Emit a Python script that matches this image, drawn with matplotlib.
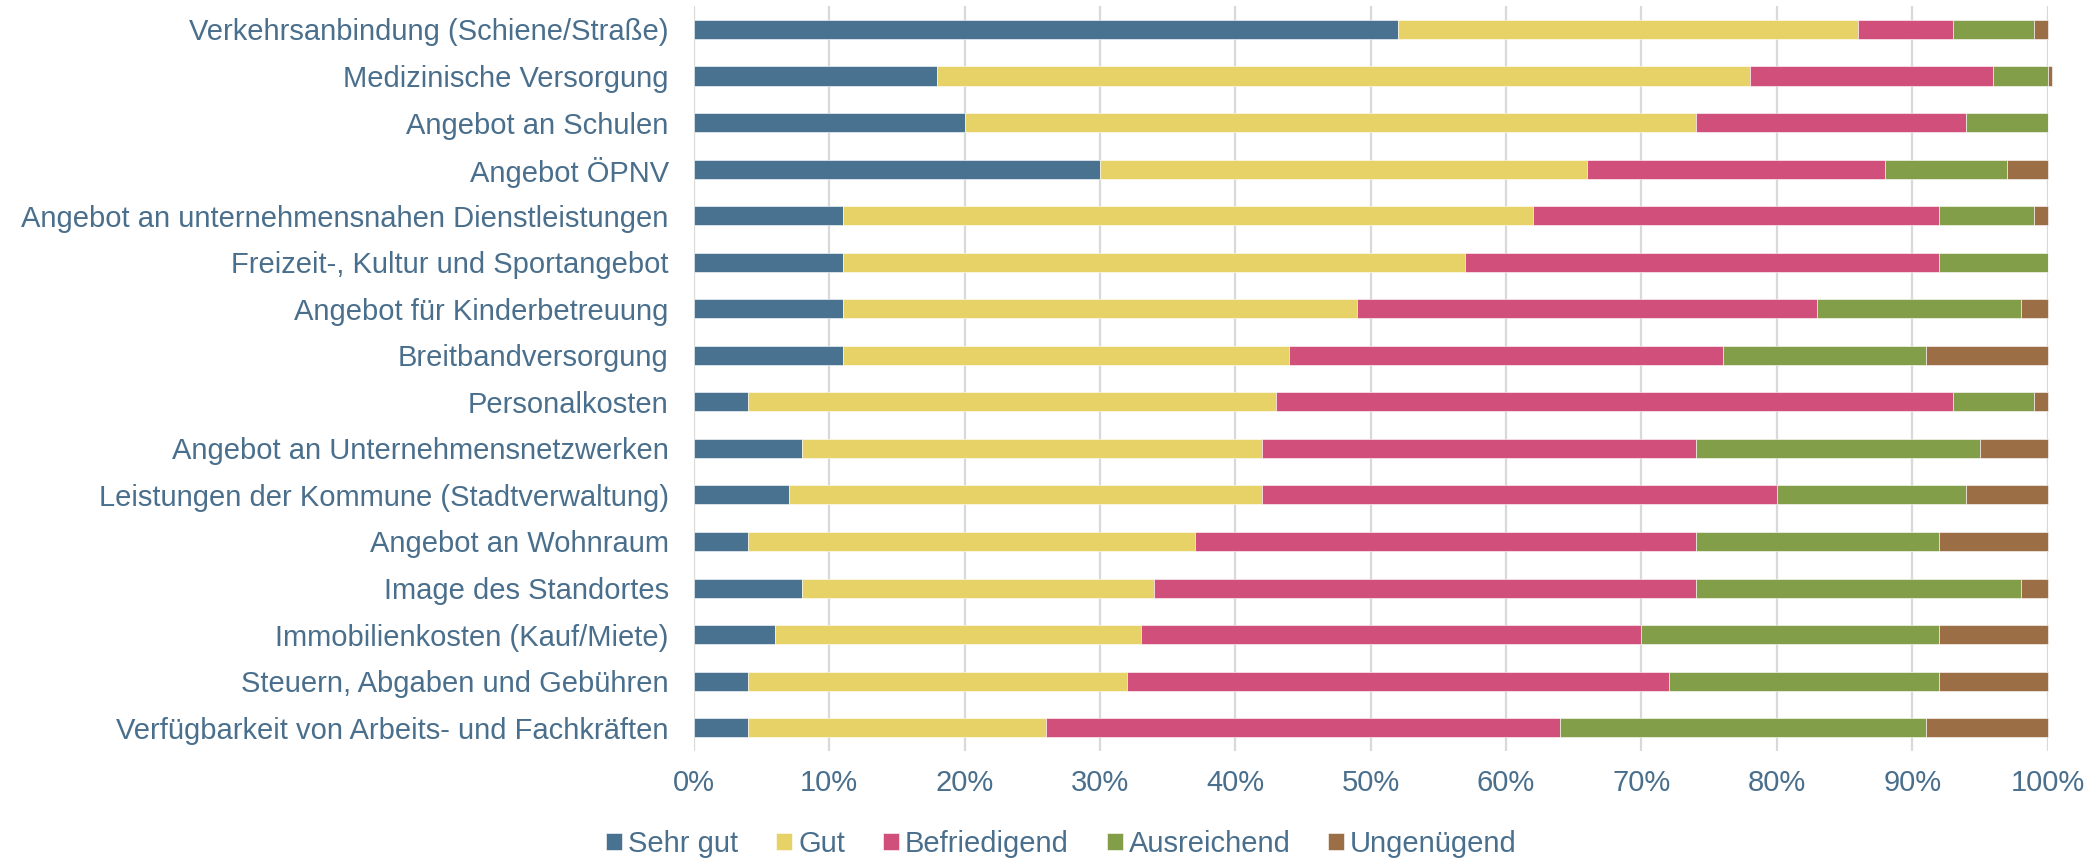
#!/usr/bin/env python3
"""Stacked horizontal bar chart: Bewertung der Standortfaktoren."""
import matplotlib
matplotlib.use('Agg')
import matplotlib.pyplot as plt
from matplotlib.ticker import FuncFormatter
import numpy as np

# Data (percent), top row first
factors = [
    'Verkehrsanbindung (Schiene/Straße)',
    'Medizinische Versorgung',
    'Angebot an Schulen',
    'Angebot ÖPNV',
    'Angebot an unternehmensnahen Dienstleistungen',
    'Freizeit-, Kultur und Sportangebot',
    'Angebot für Kinderbetreuung',
    'Breitbandversorgung',
    'Personalkosten',
    'Angebot an Unternehmensnetzwerken',
    'Leistungen der Kommune (Stadtverwaltung)',
    'Angebot an Wohnraum',
    'Image des Standortes',
    'Immobilienkosten (Kauf/Miete)',
    'Steuern, Abgaben und Gebühren',
    'Verfügbarkeit von Arbeits- und Fachkräften',
]
categories = ['Sehr gut', 'Gut', 'Befriedigend', 'Ausreichend', 'Ungenügend']
sehr_gut = [52, 18, 20, 30, 11, 11, 11, 11, 4, 8, 7, 4, 8, 6, 4, 4]
gut = [34, 60, 54, 36, 51, 46, 38, 33, 39, 34, 35, 33, 26, 27, 28, 22]
befriedigend = [7, 18, 20, 22, 30, 35, 34, 32, 50, 32, 38, 37, 40, 37, 40, 38]
ausreichend = [6, 4, 6, 9, 7, 8, 15, 15, 6, 21, 14, 18, 24, 22, 20, 27]
ungenuegend = [1, 0.3, 0, 3, 1, 0, 2, 9, 1, 5, 6, 8, 2, 8, 8, 9]
ticks = [0, 10, 20, 30, 40, 50, 60, 70, 80, 90, 100]

colors = ['#48728f', '#e6d266', '#d14f7b', '#829e48', '#9c6e45']
text_color = '#4a6f8c'

plt.rcParams['font.family'] = ['Liberation Sans', 'DejaVu Sans']

fig = plt.figure(figsize=(20.98, 8.61), dpi=100)
ax = fig.add_axes([0.3307, 0.1278, 0.6453, 0.865])

series = [sehr_gut, gut, befriedigend, ausreichend, ungenuegend]
y = np.arange(len(factors))
left = np.zeros(len(factors))
for vals, name, col in zip(series, categories, colors):
    vals = np.array(vals, dtype=float)
    ax.barh(y, vals, left=left, height=0.41, color=col, label=name,
            edgecolor='white', linewidth=0.4, zorder=3, clip_on=False)
    left += vals

ax.set_ylim(len(factors) - 0.5, -0.5)
ax.set_xlim(0, 100)
ax.set_yticks(y)
ax.set_yticklabels(factors)
ax.set_xticks(ticks)
ax.xaxis.set_major_formatter(FuncFormatter(lambda v, p: f'{v:.0f}%'))

ax.tick_params(axis='y', length=0, pad=18, labelsize=21, labelcolor=text_color)
ax.tick_params(axis='x', length=0, pad=13, labelsize=21, labelcolor=text_color)

for s in ax.spines.values():
    s.set_visible(False)
ax.grid(axis='x', color='#d9d9d9', linewidth=1.6, zorder=0)
ax.set_axisbelow(True)

fig.legend(
    loc='lower center', bbox_to_anchor=(0.506, -0.027), ncol=5, frameon=False,
    fontsize=21, handlelength=0.55, handleheight=0.55, handletextpad=0.2,
    columnspacing=1.3, labelcolor=text_color
)

fig.savefig('out.png', dpi=100)
